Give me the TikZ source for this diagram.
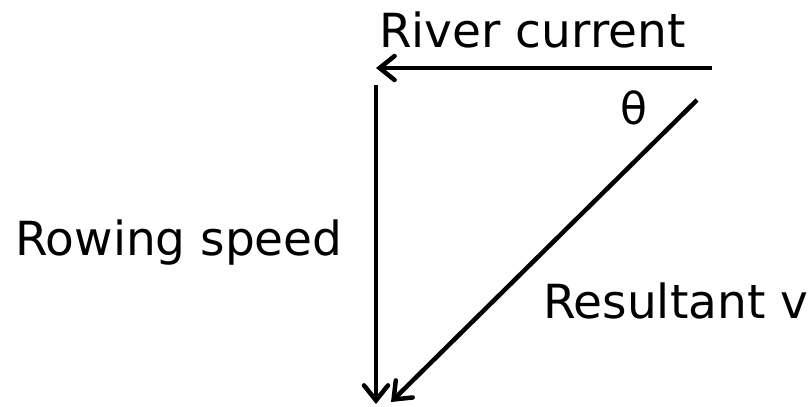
\documentclass[tikz,border=0pt]{standalone}
\usepackage{fontspec}
\setmainfont{DejaVu Sans}
\usetikzlibrary{arrows.meta}
\begin{document}
\begin{tikzpicture}[
    x=1pt, y=-1pt,
    lbl/.style={anchor=base west, inner sep=0pt, font=\fontsize{47}{50}\selectfont},
    vec/.style={line width=4.5pt, -{Straight Barb[length=15pt, width=24pt, line cap=round]}}
]
    \useasboundingbox (0,0) rectangle (812,407);

    % end points of the three velocity vectors
    \coordinate (rc0) at (712,68);
    \coordinate (rc1) at (376,68);
    \coordinate (rs0) at (376,85);
    \coordinate (rs1) at (376,404);
    \coordinate (rv0) at (697,100);
    \coordinate (rv1) at (391,402);

    % labels
    \node[lbl] (river) at (379,47)  {River current};
    \node[lbl] (rowing) at (15,255) {Rowing speed};
    \node[lbl] (result) at (543,318) {Resultant v};
    \node[font=\fontsize{44}{48}\selectfont, inner sep=0pt] (theta) at (634,108) {θ};

    \draw[vec] (rc0) -- (rc1);
    \draw[vec] (rs0) -- (rs1);
    \draw[vec] (rv0) -- (rv1);
\end{tikzpicture}
\end{document}
